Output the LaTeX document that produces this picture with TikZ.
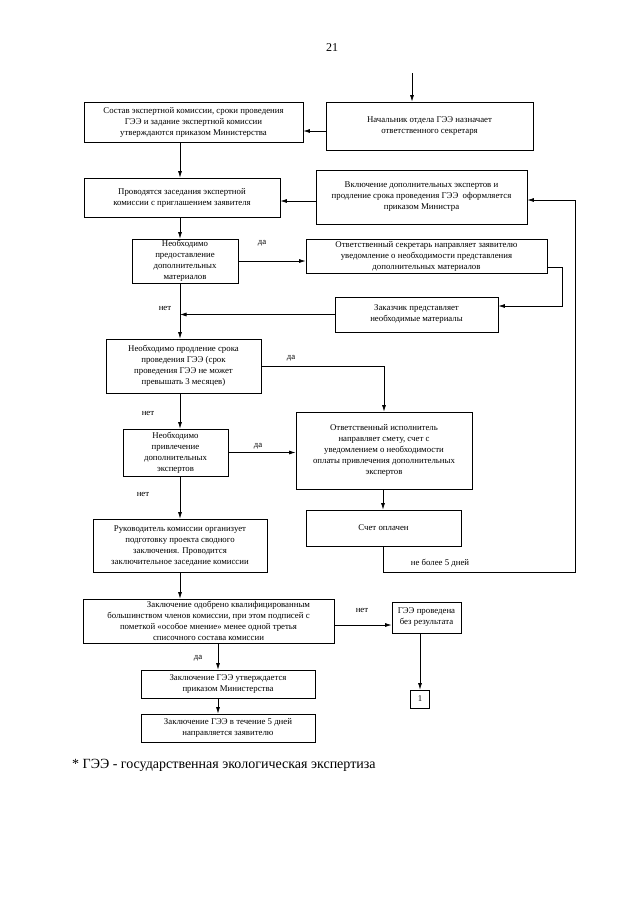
\documentclass[tikz,border=0pt]{standalone}
\usepackage{fontspec}
\setmainfont{Liberation Serif}
\usetikzlibrary{arrows.meta,calc}
\tikzset{
  box/.style={draw, line width=0.75pt, inner sep=0pt, align=center, font=\fontsize{8.8}{11}\selectfont},
  arr/.style={line width=0.75pt, -{Latex[length=6.5pt,width=4pt]}},
  lbl/.style={font=\fontsize{8.8}{11}\selectfont, inner sep=0pt}
}
\begin{document}
\begin{tikzpicture}[x=1pt,y=-1pt]
\useasboundingbox[fill=white] (0,0) rectangle (640,905);
\node[font=\fontsize{12}{14}\selectfont] (pg) at (332,48) {21};

\node[box, minimum width=219pt, minimum height=40pt] (A) at (193.5,122)
  {Состав экспертной комиссии, сроки проведения\\ГЭЭ и задание экспертной комиссии\\утверждаются приказом Министерства};
\node[box, minimum width=207pt, minimum height=48pt] (B) at (429.5,126)
  {Начальник отдела ГЭЭ назначает\\ответственного секретаря};
\coordinate (top) at (412,73);
\node[box, minimum width=196pt, minimum height=39pt] (C) at (182,197.5)
  {Проводятся заседания экспертной\\комиссии с приглашением заявителя};
\node[box, minimum width=211pt, minimum height=54pt] (D) at (421.5,197)
  {Включение дополнительных экспертов и\\продление срока проведения ГЭЭ\ \ оформляется\\приказом Министра};
\node[box, minimum width=106pt, minimum height=44pt] (E) at (185,261)
  {Необходимо\\предоставление\\дополнительных\\материалов};
\node[box, minimum width=241pt, minimum height=34pt] (F) at (426.5,256)
  {Ответственный секретарь направляет заявителю\\уведомление о необходимости представления\\дополнительных материалов};
\node[box, minimum width=163pt, minimum height=35pt] (G) at (416.5,314.5)
  {Заказчик представляет\\необходимые материалы};
\node[box, minimum width=155pt, minimum height=54pt] (H) at (183.5,366)
  {Необходимо продление срока\\проведения ГЭЭ (срок\\проведения ГЭЭ не может\\превышать 3 месяцев)};
\node[box, minimum width=176pt, minimum height=77pt] (J) at (384,450.5)
  {Ответственный исполнитель\\направляет смету, счет с\\уведомлением о необходимости\\оплаты привлечения дополнительных\\экспертов};
\node[box, minimum width=105pt, minimum height=47pt] (I) at (175.5,452.5)
  {Необходимо\\привлечение\\дополнительных\\экспертов};
\node[box, minimum width=174pt, minimum height=53pt] (K) at (180,545.5)
  {Руководитель комиссии организует\\подготовку проекта сводного\\заключения. Проводится\\заключительное заседание комиссии};
\node[box, minimum width=155pt, minimum height=36pt] (L) at (383.5,528)
  {Счет оплачен};
\node[box, minimum width=251pt, minimum height=44pt] (M) at (208.5,621)
  {\hspace*{40pt}Заключение одобрено квалифицированным\\большинством членов комиссии, при этом подписей с\\пометкой «особое мнение» менее одной третья\\списочного состава комиссии};
\node[box, minimum width=69pt, minimum height=31pt] (N) at (426.5,617.5)
  {ГЭЭ проведена\\без результата};
\node[box, minimum width=19pt, minimum height=18pt] (O) at (420,699) {1};
\node[box, minimum width=174pt, minimum height=28pt] (P) at (228,684)
  {Заключение ГЭЭ утверждается\\приказом Министерства};
\node[box, minimum width=174pt, minimum height=28pt] (Q) at (228,728)
  {Заключение ГЭЭ в течение 5 дней\\направляется заявителю};

% labels
\node[lbl] (l1) at (262,243) {да};
\node[lbl] (l2) at (165,308) {нет};
\node[lbl] (l3) at (291,358) {да};
\node[lbl] (l4) at (148,413) {нет};
\node[lbl] (l5) at (258,446) {да};
\node[lbl] (l6) at (143,494) {нет};
\node[lbl] (l7) at (440,563) {не более 5 дней};
\node[lbl] (l8) at (362,610) {нет};
\node[lbl] (l9) at (198,658) {да};

% connectors
\draw[arr] (top) -- (B.north -| top);
\draw[arr] (B.west |- 0,131) -- (A.east |- 0,131);
\draw[arr] (A.south -| 180,0) -- (C.north -| 180,0);
\draw[arr] (D.west |- 0,201) -- (C.east |- 0,201);
\draw[arr] (C.south -| 180,0) -- (E.north -| 180,0);
\draw[arr] (E.east) -- (E.east -| F.west);
\draw[arr] (F.east |- 0,267) -| (562,306) -- (G.east |- 0,306);
\draw[arr] (G.west) -- (G.west -| 180,0);
\draw[arr] (E.south -| 180,0) -- (H.north -| 180,0);
\draw[arr] (H.east) -| (J.north);
\draw[arr] (H.south -| 180,0) -- (I.north -| 180,0);
\draw[arr] (I.east) -- (I.east -| J.west);
\draw[arr] (I.south -| 180,0) -- (K.north -| 180,0);
\draw[arr] (J.south -| 383,0) -- (L.north -| 383,0);
\draw[arr] (L.south -| 383,0) -- (383,572) -- (575,572) -- (575,200) -- (D.east |- 0,200);
\draw[arr] (K.south -| 180,0) -- (M.north -| 180,0);
\draw[arr] (M.east |- 0,625) -- (N.west |- 0,625);
\draw[arr] (N.south -| O.north) -- (O.north);
\draw[arr] (M.south -| 218,0) -- (P.north -| 218,0);
\draw[arr] (P.south -| 218,0) -- (Q.north -| 218,0);

\node[anchor=west, inner sep=0pt, font=\fontsize{14}{16}\selectfont] (foot) at (72,765)
  {* ГЭЭ - государственная экологическая экспертиза};
\end{tikzpicture}
\end{document}
